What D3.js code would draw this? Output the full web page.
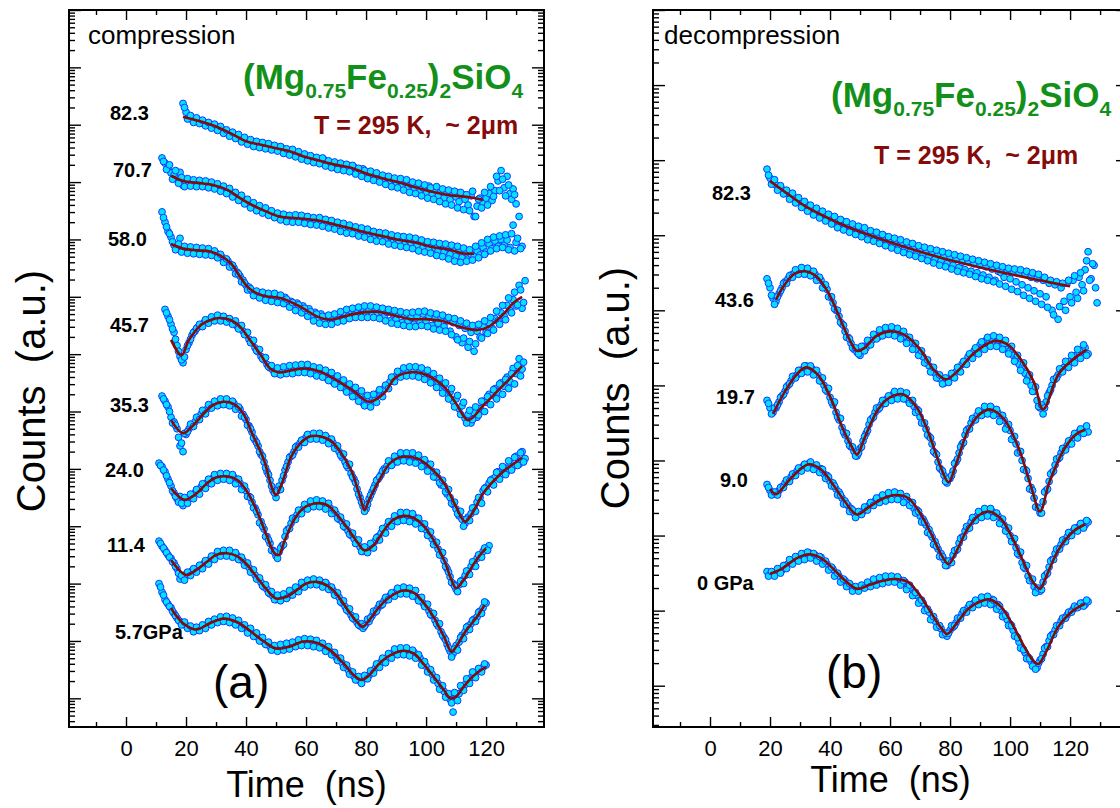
<!DOCTYPE html>
<html>
<head>
<meta charset="utf-8">
<title>NFS time spectra of (Mg0.75Fe0.25)2SiO4</title>
<script src="https://cdn.jsdelivr.net/npm/d3@7"></script>
<style>
  html, body { margin: 0; padding: 0; background: #ffffff; }
  svg { display: block; }
</style>
</head>
<body>
<svg id="chart" width="1120" height="808"></svg>
<script>
// ---------- time axis (ns) ----------
const timeTicks = [0, 20, 40, 60, 80, 100, 120];
const timeMinorTicks = [-10, 10, 30, 50, 70, 90, 110, 130];

// ---------- pressure labels (GPa) ----------
const compLabels = ["82.3", "70.7", "58.0", "45.7", "35.3", "24.0", "11.4", "5.7GPa"];
const decompLabels = ["82.3", "43.6", "19.7", "9.0", "0 GPa"];

// ---------- measured counts: log10 of stacked counts ----------
// "A" arrays: one bin per ns from the start time; "B" arrays: bins offset by half a ns
const compStart = [19, 12, 12, 13, 12, 11, 11, 11];

const comp823A = [11.37,11.22,11.12,11.09,11.06,11.08,11.05,11.03,11.01,10.98,10.99,10.95,10.93,10.92,10.88,10.86,10.85,10.80,10.80,10.77,
  10.74,10.72,10.70,10.69,10.66,10.68,10.64,10.63,10.65,10.60,10.61,10.58,10.57,10.59,10.54,10.52,10.55,10.49,10.50,10.46,
  10.42,10.45,10.41,10.42,10.37,10.40,10.35,10.39,10.31,10.34,10.28,10.32,10.27,10.30,10.24,10.28,10.20,10.26,10.19,10.17,
  10.23,10.12,10.17,10.10,10.14,10.05,10.11,10.04,10.08,9.99,10.05,9.95,10.03,9.94,10.00,9.90,9.96,9.86,9.95,9.85,
  9.90,9.80,9.93,9.78,9.87,9.75,9.85,9.72,9.82,9.69,9.80,9.74,9.66,9.79,9.70,9.60,9.76,9.40,9.58,9.72,
  9.64,9.72,9.80,9.68,9.85,10.02,10.20,9.90,10.10,9.80,9.88,9.62];
const comp823B = [11.30,11.10,11.16,11.04,11.12,11.02,11.08,10.98,11.04,10.94,11.01,10.90,10.97,10.85,10.91,10.80,10.87,10.76,10.83,10.70,
  10.78,10.66,10.74,10.62,10.71,10.60,10.69,10.58,10.67,10.56,10.64,10.54,10.62,10.50,10.58,10.47,10.57,10.44,10.53,10.40,
  10.49,10.37,10.46,10.34,10.43,10.32,10.42,10.28,10.37,10.25,10.35,10.22,10.33,10.20,10.31,10.18,10.29,10.14,10.24,10.10,
  10.20,10.06,10.19,10.03,10.16,10.00,10.12,9.96,10.10,9.92,10.07,9.90,10.06,9.86,10.04,9.82,10.00,9.80,9.98,9.76,
  9.95,9.72,9.90,9.70,9.92,9.66,9.88,9.62,9.86,9.60,9.84,9.55,9.82,9.52,9.78,9.50,9.84,9.40,9.70,9.55,
  9.82,9.60,9.92,9.75,10.10,9.85,10.05,9.76,9.95,9.70,9.78];

const comp707A = [10.42,10.33,10.25,10.16,10.12,10.05,10.17,9.94,10.00,9.97,10.01,9.96,9.99,9.97,10.00,9.95,9.97,9.93,9.94,9.90,
  9.91,9.86,9.85,9.80,9.79,9.74,9.73,9.68,9.67,9.61,9.62,9.56,9.57,9.52,9.51,9.47,9.49,9.43,9.44,9.39,
  9.42,9.36,9.39,9.35,9.40,9.34,9.38,9.33,9.37,9.31,9.35,9.30,9.35,9.29,9.32,9.26,9.30,9.24,9.28,9.21,
  9.24,9.18,9.22,9.16,9.20,9.13,9.18,9.10,9.14,9.08,9.13,9.04,9.10,9.02,9.08,9.00,9.05,8.95,9.02,8.97,
  9.04,8.92,9.00,8.94,8.98,8.90,8.97,8.86,8.93,8.84,8.91,8.85,8.80,8.88,8.78,8.86,8.74,8.84,8.71,8.80,
  8.68,8.78,8.66,8.74,8.70,8.80,8.73,8.86,8.78,8.92,8.84,8.97,8.88,9.00,8.90,8.99,8.86,9.25,8.95,9.40,8.88];
const comp707B = [10.36,10.22,10.30,10.05,10.20,9.98,10.08,9.92,10.06,9.93,10.04,9.92,10.03,9.92,10.02,9.90,10.00,9.88,9.97,9.84,
  9.93,9.80,9.89,9.74,9.82,9.68,9.77,9.62,9.70,9.55,9.64,9.50,9.59,9.46,9.55,9.42,9.50,9.38,9.46,9.34,
  9.44,9.31,9.42,9.30,9.43,9.30,9.42,9.28,9.40,9.26,9.38,9.25,9.38,9.23,9.35,9.20,9.33,9.18,9.30,9.14,
  9.28,9.11,9.25,9.10,9.22,9.06,9.20,9.04,9.18,9.00,9.14,8.97,9.12,8.96,9.11,8.92,9.08,8.90,9.06,8.88,
  9.05,8.86,9.04,8.84,9.02,8.80,8.99,8.78,8.96,8.76,8.95,8.72,8.93,8.70,8.92,8.66,8.90,8.62,8.88,8.60,
  8.85,8.62,8.82,8.64,8.88,8.68,8.94,8.74,9.00,8.80,9.04,8.84,9.06,8.86,9.08,8.82,9.10,8.80,9.02,8.84];

const comp580A = [9.48,9.30,9.14,9.04,8.90,8.86,9.02,8.83,8.85,8.80,8.84,8.79,8.83,8.78,8.82,8.77,8.80,8.75,8.76,8.71,
  8.69,8.64,8.62,8.56,8.50,8.43,8.36,8.29,8.20,8.17,8.10,8.07,8.03,8.06,8.00,8.04,7.97,8.03,7.96,8.00,
  7.93,7.99,7.90,7.92,7.86,7.89,7.80,7.84,7.74,7.79,7.68,7.73,7.62,7.70,7.58,7.66,7.55,7.65,7.60,7.70,
  7.62,7.72,7.66,7.76,7.68,7.78,7.69,7.80,7.72,7.77,7.68,7.80,7.71,7.74,7.65,7.73,7.58,7.70,7.60,7.69,
  7.55,7.67,7.58,7.64,7.52,7.66,7.56,7.70,7.58,7.66,7.50,7.62,7.54,7.64,7.48,7.58,7.40,7.55,7.30,7.50,
  7.20,7.45,7.12,7.38,7.05,7.40,7.30,7.48,7.38,7.55,7.45,7.62,7.58,7.72,7.66,7.85,7.76,7.95,7.84,8.20,7.80,8.28];
const comp580B = [9.38,9.22,9.10,8.96,8.82,8.92,8.78,8.88,8.76,8.87,8.75,8.86,8.74,8.85,8.73,8.84,8.72,8.80,8.68,8.74,
  8.60,8.66,8.52,8.55,8.40,8.40,8.26,8.24,8.12,8.14,8.02,8.10,7.98,8.08,7.94,8.06,7.92,8.06,7.90,8.03,
  7.88,7.96,7.82,7.90,7.76,7.86,7.72,7.80,7.66,7.74,7.58,7.70,7.54,7.66,7.52,7.68,7.52,7.70,7.56,7.74,
  7.58,7.78,7.62,7.80,7.64,7.82,7.64,7.84,7.64,7.84,7.64,7.82,7.62,7.80,7.58,7.78,7.54,7.76,7.52,7.74,
  7.50,7.72,7.48,7.73,7.48,7.74,7.50,7.75,7.48,7.72,7.44,7.70,7.42,7.68,7.40,7.64,7.34,7.62,7.25,7.58,
  7.28,7.54,7.22,7.50,7.18,7.52,7.28,7.58,7.36,7.64,7.42,7.75,7.52,7.85,7.60,7.98,7.72,8.08,7.86,8.12,7.90];

const comp457A = [7.78,7.66,7.52,7.38,7.15,6.96,6.85,7.08,7.20,7.33,7.40,7.47,7.50,7.55,7.56,7.60,7.61,7.64,7.62,7.65,
  7.60,7.61,7.56,7.55,7.49,7.47,7.40,7.34,7.26,7.20,7.11,7.04,6.96,6.90,6.82,6.76,6.72,6.70,6.67,6.72,
  6.69,6.75,6.71,6.77,6.72,6.76,6.70,6.78,6.71,6.74,6.66,6.72,6.64,6.68,6.58,6.63,6.52,6.58,6.48,6.50,
  6.40,6.44,6.33,6.38,6.26,6.30,6.15,6.22,6.12,6.25,6.20,6.32,6.30,6.40,6.46,6.52,6.58,6.62,6.65,6.70,
  6.66,6.72,6.68,6.73,6.65,6.70,6.62,6.68,6.58,6.60,6.50,6.52,6.42,6.45,6.32,6.34,6.18,6.22,6.05,6.10,
  5.88,5.95,5.80,5.98,5.90,6.05,6.18,6.16,6.30,6.28,6.40,6.34,6.50,6.44,6.60,6.52,6.75,6.66,6.92,6.74];
const comp457B = [7.72,7.60,7.44,7.26,7.05,6.90,6.95,7.15,7.26,7.38,7.45,7.52,7.48,7.60,7.54,7.65,7.58,7.68,7.58,7.66,
  7.56,7.62,7.52,7.58,7.44,7.50,7.34,7.38,7.20,7.24,7.06,7.08,6.92,6.94,6.78,6.80,6.66,6.76,6.64,6.78,
  6.66,6.80,6.66,6.81,6.68,6.82,6.68,6.82,6.66,6.78,6.62,6.76,6.60,6.72,6.54,6.68,6.48,6.62,6.42,6.55,
  6.34,6.48,6.26,6.42,6.18,6.36,6.10,6.28,6.08,6.30,6.16,6.38,6.26,6.46,6.40,6.60,6.52,6.70,6.60,6.76,
  6.62,6.78,6.62,6.78,6.60,6.76,6.56,6.72,6.50,6.66,6.42,6.58,6.32,6.50,6.22,6.40,6.08,6.28,5.95,6.16,
  5.80,6.02,5.86,6.08,5.94,6.18,6.00,6.26,6.12,6.38,6.22,6.48,6.30,6.56,6.40,6.66,6.48,6.80,6.62,6.86];

const comp353A = [6.27,6.18,6.08,5.90,5.82,5.70,5.40,5.30,5.60,5.70,5.76,5.82,5.88,5.95,5.98,6.04,6.08,6.10,6.15,6.14,
  6.19,6.16,6.18,6.12,6.14,6.06,6.04,5.95,5.86,5.75,5.64,5.50,5.40,5.25,5.12,4.95,4.80,4.62,4.50,4.70,
  4.80,4.98,5.12,5.22,5.30,5.40,5.45,5.50,5.55,5.58,5.54,5.60,5.55,5.58,5.52,5.54,5.46,5.45,5.36,5.30,
  5.20,5.12,5.02,4.92,4.82,4.65,4.50,4.35,4.30,4.48,4.60,4.72,4.82,4.90,5.00,5.05,5.12,5.10,5.18,5.15,
  5.25,5.18,5.24,5.15,5.22,5.12,5.16,5.06,5.10,4.98,4.96,4.86,4.84,4.72,4.70,4.56,4.50,4.38,4.30,4.18,
  4.12,4.05,4.16,4.22,4.32,4.42,4.50,4.62,4.68,4.75,4.82,4.85,4.95,4.90,5.02,4.96,5.10,5.04,5.22,5.08,5.30,5.18];
const comp353B = [6.22,6.12,6.00,5.80,5.76,5.55,5.45,5.62,5.65,5.78,5.74,5.90,5.86,6.02,5.96,6.12,6.06,6.18,6.10,6.22,
  6.12,6.22,6.10,6.18,6.04,6.08,5.92,5.90,5.76,5.70,5.54,5.46,5.30,5.22,5.02,4.90,4.70,4.58,4.62,4.64,
  4.88,5.04,5.20,5.24,5.38,5.38,5.50,5.46,5.60,5.52,5.62,5.52,5.62,5.50,5.58,5.44,5.52,5.36,5.40,5.24,
  5.26,5.06,5.08,4.86,4.76,4.56,4.42,4.26,4.38,4.54,4.66,4.80,4.86,4.96,4.98,5.14,5.06,5.22,5.12,5.28,
  5.14,5.28,5.12,5.28,5.10,5.24,5.04,5.16,4.96,5.08,4.86,4.94,4.76,4.80,4.60,4.64,4.40,4.42,4.22,4.26,
  4.00,4.12,4.10,4.32,4.26,4.50,4.40,4.66,4.60,4.80,4.72,4.94,4.82,5.04,4.90,5.14,4.98,5.20,5.06,5.28,5.12];

const comp240A = [5.10,5.04,4.95,4.82,4.70,4.58,4.48,4.52,4.36,4.44,4.50,4.53,4.58,4.62,4.68,4.72,4.76,4.80,4.84,4.86,
  4.84,4.89,4.86,4.89,4.84,4.85,4.78,4.75,4.68,4.62,4.52,4.42,4.32,4.20,4.08,3.95,3.82,3.70,3.58,3.48,
  3.55,3.66,3.82,3.95,4.05,4.14,4.20,4.26,4.30,4.35,4.37,4.40,4.38,4.42,4.36,4.40,4.34,4.32,4.24,4.22,
  4.12,4.08,3.98,3.92,3.84,3.78,3.70,3.64,3.56,3.60,3.62,3.68,3.74,3.82,3.88,3.95,4.00,4.06,4.10,4.15,
  4.12,4.20,4.16,4.19,4.12,4.16,4.08,4.06,3.98,3.94,3.86,3.78,3.70,3.60,3.50,3.40,3.26,3.12,3.00,2.90,
  2.98,3.06,3.14,3.22,3.30,3.38,3.44,3.50,3.56,3.62,3.66];
const comp240B = [5.06,4.98,4.88,4.76,4.62,4.52,4.42,4.40,4.50,4.40,4.56,4.48,4.64,4.56,4.74,4.66,4.82,4.74,4.90,4.80,
  4.92,4.82,4.92,4.80,4.90,4.74,4.82,4.64,4.70,4.52,4.50,4.32,4.26,4.06,4.00,3.82,3.76,3.58,3.55,3.44,
  3.62,3.68,3.92,3.96,4.14,4.12,4.28,4.22,4.38,4.30,4.44,4.34,4.46,4.34,4.44,4.30,4.40,4.22,4.28,4.14,
  4.16,4.00,4.04,3.86,3.88,3.70,3.76,3.56,3.64,3.54,3.70,3.62,3.80,3.76,3.96,3.88,4.08,4.00,4.18,4.08,
  4.24,4.10,4.24,4.08,4.22,4.04,4.14,3.96,4.04,3.84,3.90,3.68,3.72,3.50,3.54,3.30,3.20,3.02,2.96,2.86,
  3.04,3.00,3.22,3.16,3.38,3.30,3.50,3.46,3.62,3.58];

const comp114A = [3.74,3.65,3.58,3.50,3.44,3.36,3.26,3.08,3.12,3.16,3.18,3.22,3.24,3.27,3.30,3.35,3.38,3.42,3.47,3.49,
  3.53,3.51,3.55,3.52,3.54,3.48,3.49,3.42,3.40,3.33,3.28,3.20,3.15,3.08,3.02,2.94,2.90,2.82,2.78,2.72,
  2.76,2.74,2.79,2.78,2.84,2.86,2.92,2.93,2.99,2.98,3.04,3.00,3.05,3.01,3.03,2.96,2.98,2.90,2.88,2.80,
  2.76,2.66,2.60,2.52,2.45,2.38,2.32,2.26,2.22,2.30,2.34,2.44,2.50,2.58,2.62,2.70,2.72,2.79,2.80,2.86,
  2.84,2.90,2.86,2.88,2.82,2.84,2.76,2.74,2.66,2.60,2.52,2.44,2.36,2.26,2.16,2.06,1.94,1.82,1.78,1.92,
  1.98,2.10,2.16,2.26,2.30,2.38,2.42,2.52,2.58,2.66];
const comp114B = [3.70,3.62,3.54,3.46,3.38,3.30,3.18,3.14,3.06,3.20,3.14,3.26,3.20,3.32,3.26,3.40,3.34,3.48,3.42,3.56,
  3.48,3.58,3.48,3.58,3.46,3.54,3.42,3.46,3.32,3.36,3.20,3.24,3.08,3.10,2.96,2.98,2.84,2.86,2.72,2.80,
  2.70,2.82,2.74,2.88,2.80,2.94,2.86,3.02,2.94,3.06,2.98,3.08,2.98,3.06,2.94,3.02,2.90,2.94,2.80,2.84,
  2.68,2.70,2.54,2.56,2.40,2.42,2.28,2.30,2.26,2.38,2.40,2.52,2.52,2.64,2.64,2.76,2.72,2.84,2.78,2.92,
  2.82,2.94,2.82,2.92,2.78,2.88,2.70,2.76,2.60,2.64,2.46,2.48,2.30,2.30,2.10,2.02,1.88,1.72,1.86,1.84,
  2.06,2.04,2.24,2.20,2.36,2.34,2.50,2.48,2.68];

const comp57A = [3.00,2.85,2.72,2.64,2.58,2.48,2.40,2.34,2.30,2.27,2.24,2.22,2.20,2.22,2.24,2.26,2.28,2.31,2.33,2.35,
  2.38,2.36,2.41,2.37,2.38,2.33,2.35,2.28,2.27,2.22,2.20,2.14,2.10,2.06,2.02,1.98,1.94,1.90,1.88,1.86,
  1.89,1.88,1.92,1.90,1.94,1.92,1.97,1.95,2.00,1.97,2.01,1.96,1.99,1.94,1.95,1.88,1.88,1.82,1.78,1.72,
  1.68,1.62,1.56,1.50,1.44,1.38,1.34,1.30,1.33,1.36,1.40,1.46,1.52,1.58,1.63,1.68,1.71,1.76,1.78,1.82,
  1.80,1.85,1.82,1.84,1.79,1.80,1.72,1.70,1.62,1.56,1.48,1.42,1.33,1.26,1.18,1.12,1.04,0.98,0.76,1.04,
  1.08,1.18,1.24,1.30,1.36,1.40,1.46,1.50,1.54,1.58];
const comp57B = [2.94,2.80,2.68,2.60,2.52,2.44,2.36,2.28,2.33,2.22,2.26,2.16,2.24,2.18,2.28,2.22,2.34,2.28,2.38,2.32,
  2.42,2.34,2.43,2.32,2.40,2.28,2.36,2.22,2.28,2.14,2.22,2.08,2.14,2.00,2.06,1.94,1.98,1.84,1.92,1.82,
  1.94,1.84,1.96,1.86,1.98,1.90,2.02,1.92,2.04,1.92,2.03,1.90,2.01,1.88,1.96,1.82,1.90,1.76,1.80,1.66,
  1.70,1.54,1.58,1.42,1.46,1.32,1.38,1.26,1.40,1.34,1.48,1.44,1.60,1.54,1.70,1.62,1.78,1.70,1.86,1.76,
  1.88,1.76,1.88,1.74,1.84,1.70,1.76,1.58,1.64,1.46,1.50,1.32,1.36,1.16,1.22,1.02,1.08,0.92,1.10,0.96,
  1.22,1.14,1.34,1.26,1.46,1.36,1.52,1.46,1.60];

// ---------- fitted curves: [time (ns), log10 counts] ----------
const fit823 = [[19,11.14],[24,11.07],[30,10.97],[36,10.82],[40,10.71],[45,10.65],[50,10.59],[55,10.53],[59,10.45],[64,10.38],
  [70,10.30],[75,10.25],[80,10.15],[86,10.06],[92,9.98],[97,9.90],[102,9.83],[108,9.77],[114,9.74],[119,9.69]];
const fit707 = [[15,10.11],[19,10.02],[25,9.98],[29,9.95],[34,9.86],[38,9.72],[42,9.60],[47,9.48],[51,9.40],[57,9.37],[64,9.33],
  [68,9.28],[75,9.19],[80,9.12],[86,9.05],[91,8.99],[97,8.94],[102,8.87],[108,8.82],[112,8.76],[116,8.75]];
const fit580 = [[15,8.92],[19,8.84],[24,8.81],[28,8.79],[31,8.73],[35,8.58],[38,8.35],[41,8.15],[45,8.03],[48,8.00],[52,7.97],
  [58,7.83],[64,7.65],[68,7.60],[72,7.65],[78,7.72],[84,7.74],[89,7.68],[95,7.61],[100,7.61],[106,7.57],[111,7.48],[117,7.42],
  [121,7.48],[126,7.71],[129,7.89],[132,8.00]];
const fit457 = [[15,7.25],[18.5,6.98],[21,7.25],[25,7.51],[28,7.59],[31,7.63],[35,7.59],[38,7.48],[41,7.27],[45,6.98],[48,6.75],
  [51,6.68],[56,6.73],[60,6.75],[65,6.69],[70,6.55],[76,6.35],[81,6.17],[86,6.32],[90,6.60],[96,6.69],[100,6.64],[106,6.43],
  [110,6.14],[114,5.85],[119,6.10],[125,6.42],[132,6.79]];
const fit353 = [[15,5.85],[19,5.62],[22,5.74],[26,5.97],[29,6.11],[32.5,6.17],[36,6.13],[39,5.97],[42,5.62],[46,5.15],[48.5,4.69],
  [50,4.54],[52,4.75],[55,5.21],[58,5.44],[61,5.56],[64.5,5.57],[68,5.50],[71,5.33],[75,4.98],[78,4.51],[79.5,4.28],[81,4.46],
  [85,4.86],[88,5.10],[92,5.21],[97,5.18],[101,5.04],[106,4.75],[110,4.34],[113,4.08],[116,4.28],[119,4.57],[125,4.92],
  [130,5.12],[132,5.20]];
const fit240 = [[15,4.66],[19.5,4.46],[23.5,4.57],[27,4.75],[30,4.85],[33.5,4.87],[37,4.81],[40,4.63],[43.5,4.28],[47,3.82],
  [49.5,3.53],[51,3.50],[52.5,3.70],[56,4.11],[59,4.31],[63.5,4.40],[67,4.37],[70,4.22],[73.5,3.99],[77,3.73],[79.5,3.58],
  [82.5,3.67],[86,3.93],[89,4.11],[92.5,4.18],[96,4.14],[99,4.02],[102.5,3.76],[106,3.41],[108.5,3.06],[110,2.92],[112.5,3.06],
  [116,3.35],[119,3.56],[120,3.61]];
const fit114 = [[15,3.41],[20,3.15],[23.5,3.24],[27,3.38],[30,3.50],[33.5,3.53],[37,3.48],[40,3.35],[43.5,3.12],[47,2.89],[50,2.74],
  [53.5,2.77],[57,2.89],[60,3.00],[63.5,3.03],[67,2.97],[70,2.83],[73.5,2.57],[77,2.33],[79,2.25],[81,2.36],[84.5,2.60],[88,2.77],
  [92.5,2.88],[96,2.84],[99,2.68],[102.5,2.42],[106,2.07],[108.5,1.81],[110,1.90],[113.5,2.19],[117,2.42],[119.5,2.63]];
const fit57 = [[15,2.57],[19,2.31],[23.5,2.20],[28,2.31],[32.5,2.39],[37,2.33],[41,2.19],[46,1.99],[50,1.87],[55,1.91],[59,1.99],
  [63.5,1.97],[68,1.84],[72.5,1.61],[76,1.40],[78.5,1.32],[81,1.40],[84.5,1.61],[88,1.75],[92.5,1.83],[96,1.78],[99,1.61],
  [102.5,1.38],[106,1.14],[108,1.00],[110,1.03],[112.5,1.20],[116,1.40],[120,1.55]];

// ---------- decompression series ----------
const decompStart = [19, 19, 19, 19, 19];

const dec823A = [7.88,7.76,7.70,7.67,7.62,7.61,7.56,7.55,7.52,7.50,7.46,7.44,7.40,7.41,7.35,7.36,7.30,7.32,7.26,7.28,
  7.22,7.24,7.18,7.21,7.14,7.19,7.12,7.14,7.08,7.12,7.05,7.08,7.03,7.06,6.99,7.04,6.96,7.00,6.94,6.99,
  6.91,6.96,6.88,6.93,6.86,6.90,6.82,6.88,6.80,6.85,6.77,6.82,6.74,6.80,6.72,6.78,6.68,6.75,6.66,6.72,
  6.62,6.70,6.60,6.68,6.57,6.64,6.54,6.66,6.52,6.62,6.50,6.60,6.47,6.58,6.44,6.55,6.40,6.52,6.50,6.44,
  6.54,6.42,6.52,6.38,6.50,6.34,6.48,6.30,6.44,6.26,6.42,6.22,6.40,6.18,6.36,6.00,6.34,5.88,6.30,6.12,
  6.36,6.18,6.40,6.24,6.44,6.34,6.54,6.78,6.42,6.60,6.10];
const dec823B = [7.80,7.68,7.74,7.60,7.66,7.55,7.60,7.48,7.56,7.43,7.50,7.37,7.45,7.32,7.40,7.27,7.36,7.23,7.32,7.19,
  7.28,7.15,7.25,7.10,7.21,7.07,7.18,7.04,7.15,7.01,7.12,6.98,7.10,6.94,7.06,6.92,7.04,6.89,7.01,6.86,
  6.98,6.83,6.96,6.80,6.94,6.77,6.91,6.74,6.89,6.72,6.86,6.69,6.84,6.66,6.82,6.63,6.80,6.60,6.78,6.58,
  6.76,6.55,6.74,6.52,6.72,6.50,6.70,6.48,6.68,6.45,6.66,6.42,6.64,6.40,6.62,6.38,6.60,6.35,6.58,6.32,
  6.56,6.28,6.55,6.25,6.54,6.20,6.52,6.16,6.50,6.12,6.48,6.08,6.44,6.04,6.40,5.94,6.38,6.05,6.36,6.00,
  6.40,6.10,6.46,6.16,6.50,6.26,6.66,6.40,6.62,6.30];

const dec436A = [6.42,6.30,6.16,6.12,6.22,6.30,6.38,6.42,6.47,6.49,6.52,6.50,6.54,6.51,6.53,6.47,6.48,6.42,6.40,6.32,
  6.28,6.18,6.10,6.00,5.92,5.82,5.72,5.64,5.56,5.48,5.44,5.40,5.52,5.50,5.58,5.60,5.66,5.64,5.70,5.68,
  5.74,5.70,5.74,5.68,5.72,5.64,5.66,5.58,5.58,5.50,5.48,5.42,5.38,5.30,5.26,5.20,5.16,5.10,5.08,5.03,
  5.05,5.10,5.12,5.18,5.22,5.28,5.32,5.38,5.40,5.46,5.48,5.54,5.52,5.60,5.56,5.62,5.56,5.60,5.52,5.55,
  5.48,5.46,5.40,5.36,5.28,5.24,5.16,5.10,5.00,4.92,4.80,4.70,4.62,4.78,4.90,5.00,5.08,5.14,5.20,5.24,
  5.30,5.32,5.38,5.40,5.44,5.46,5.50,5.42];
const dec436B = [6.36,6.20,6.08,6.18,6.26,6.36,6.36,6.46,6.44,6.54,6.48,6.57,6.48,6.56,6.46,6.52,6.40,6.44,6.30,6.34,
  6.18,6.18,6.02,6.00,5.84,5.80,5.64,5.62,5.50,5.50,5.42,5.52,5.46,5.60,5.54,5.68,5.62,5.74,5.66,5.77,
  5.68,5.78,5.66,5.76,5.62,5.72,5.56,5.64,5.48,5.56,5.40,5.46,5.30,5.34,5.18,5.24,5.10,5.14,5.02,5.10,
  5.04,5.16,5.10,5.24,5.18,5.32,5.28,5.42,5.36,5.50,5.42,5.58,5.48,5.64,5.52,5.66,5.52,5.64,5.48,5.60,
  5.42,5.52,5.32,5.40,5.20,5.30,5.06,5.14,4.92,4.98,4.72,4.74,4.70,4.86,4.94,5.08,5.10,5.22,5.18,5.32,
  5.24,5.40,5.30,5.48,5.36,5.54,5.40];

const dec197A = [4.80,4.70,4.64,4.70,4.78,4.86,4.92,5.00,5.06,5.12,5.14,5.20,5.21,5.26,5.22,5.22,5.16,5.14,5.06,5.00,
  4.92,4.84,4.74,4.64,4.54,4.44,4.34,4.26,4.18,4.12,4.06,4.16,4.26,4.36,4.48,4.56,4.64,4.68,4.74,4.76,
  4.82,4.82,4.88,4.85,4.90,4.86,4.87,4.80,4.78,4.72,4.68,4.58,4.50,4.42,4.32,4.22,4.10,3.98,3.88,3.80,
  3.70,3.76,3.86,3.98,4.10,4.22,4.34,4.42,4.50,4.56,4.60,4.64,4.62,4.68,4.66,4.69,4.62,4.63,4.56,4.54,
  4.46,4.40,4.30,4.22,4.12,4.00,3.88,3.76,3.64,3.50,3.38,3.30,3.45,3.60,3.72,3.84,3.94,4.02,4.10,4.16,
  4.20,4.26,4.30,4.34,4.38,4.40,4.42,4.38];
const dec197B = [4.76,4.62,4.70,4.74,4.84,4.88,4.98,5.02,5.12,5.10,5.20,5.16,5.26,5.18,5.26,5.14,5.20,5.06,5.10,4.94,
  4.96,4.78,4.78,4.58,4.56,4.38,4.36,4.20,4.18,4.06,4.10,4.18,4.32,4.40,4.54,4.58,4.70,4.70,4.80,4.76,
  4.86,4.80,4.92,4.82,4.92,4.82,4.90,4.76,4.80,4.64,4.66,4.50,4.50,4.34,4.30,4.12,4.08,3.90,3.86,3.72,
  3.76,3.80,3.96,4.02,4.18,4.24,4.40,4.42,4.56,4.54,4.66,4.60,4.72,4.62,4.72,4.60,4.68,4.52,4.60,4.42,
  4.48,4.28,4.32,4.10,4.12,3.88,3.86,3.62,3.60,3.38,3.36,3.30,3.58,3.62,3.82,3.86,4.02,4.04,4.16,4.14,
  4.26,4.22,4.36,4.30,4.42,4.36,4.46];

const dec90A = [3.68,3.60,3.55,3.56,3.60,3.65,3.70,3.73,3.78,3.82,3.86,3.87,3.92,3.93,3.96,3.92,3.93,3.88,3.89,3.82,
  3.80,3.72,3.70,3.62,3.58,3.50,3.46,3.40,3.36,3.30,3.27,3.30,3.32,3.36,3.40,3.42,3.46,3.47,3.51,3.50,
  3.54,3.52,3.56,3.52,3.54,3.48,3.50,3.46,3.44,3.36,3.34,3.26,3.22,3.14,3.08,2.98,2.92,2.82,2.76,2.68,
  2.60,2.66,2.74,2.80,2.90,2.98,3.06,3.10,3.18,3.22,3.26,3.28,3.30,3.34,3.30,3.32,3.26,3.26,3.18,3.14,
  3.06,3.00,2.92,2.84,2.74,2.64,2.56,2.46,2.40,2.32,2.28,2.26,2.38,2.48,2.58,2.68,2.76,2.82,2.88,2.94,
  2.98,3.02,3.06,3.10,3.12,3.16,3.14,3.18];
const dec90B = [3.64,3.54,3.58,3.54,3.64,3.64,3.74,3.72,3.82,3.80,3.90,3.86,3.95,3.90,3.98,3.88,3.94,3.84,3.88,3.76,
  3.78,3.66,3.66,3.54,3.54,3.42,3.42,3.32,3.34,3.24,3.32,3.28,3.38,3.34,3.44,3.40,3.50,3.44,3.54,3.46,
  3.57,3.48,3.58,3.48,3.56,3.44,3.52,3.40,3.44,3.30,3.32,3.18,3.18,3.04,3.02,2.88,2.86,2.72,2.72,2.60,
  2.66,2.64,2.80,2.82,2.96,2.98,3.12,3.10,3.24,3.20,3.32,3.24,3.36,3.26,3.36,3.24,3.30,3.16,3.22,3.06,
  3.10,2.92,2.96,2.76,2.78,2.58,2.60,2.40,2.42,2.24,2.30,2.28,2.46,2.50,2.66,2.68,2.82,2.82,2.94,2.92,
  3.04,3.00,3.10,3.06,3.16,3.10,3.20];

const dec0A = [2.52,2.48,2.50,2.51,2.55,2.54,2.60,2.62,2.66,2.67,2.71,2.72,2.75,2.73,2.77,2.73,2.74,2.70,2.71,2.64,
  2.62,2.56,2.55,2.48,2.46,2.40,2.40,2.34,2.33,2.28,2.29,2.30,2.32,2.33,2.36,2.36,2.39,2.38,2.42,2.40,
  2.43,2.40,2.44,2.40,2.42,2.37,2.38,2.32,2.30,2.24,2.20,2.14,2.10,2.02,1.98,1.90,1.86,1.78,1.76,1.70,
  1.66,1.74,1.78,1.84,1.90,1.96,2.00,2.04,2.08,2.10,2.12,2.14,2.13,2.17,2.14,2.15,2.08,2.08,2.00,1.96,
  1.88,1.82,1.74,1.66,1.58,1.50,1.44,1.38,1.32,1.28,1.24,1.34,1.42,1.52,1.60,1.68,1.74,1.80,1.86,1.90,
  1.94,1.98,2.02,2.04,2.06,2.10,2.08,2.12];
const dec0B = [2.46,2.52,2.46,2.56,2.50,2.60,2.56,2.68,2.62,2.72,2.66,2.76,2.68,2.78,2.70,2.76,2.66,2.72,2.62,2.66,
  2.54,2.58,2.46,2.50,2.38,2.42,2.32,2.36,2.26,2.32,2.26,2.34,2.30,2.38,2.32,2.42,2.34,2.44,2.36,2.46,
  2.38,2.46,2.38,2.45,2.34,2.40,2.28,2.34,2.20,2.24,2.10,2.14,2.00,2.02,1.88,1.92,1.78,1.80,1.68,1.70,
  1.70,1.80,1.80,1.90,1.90,2.00,1.98,2.08,2.04,2.14,2.08,2.18,2.10,2.19,2.08,2.14,2.02,2.06,1.92,1.94,
  1.80,1.80,1.66,1.64,1.50,1.48,1.36,1.36,1.26,1.22,1.30,1.36,1.50,1.52,1.66,1.68,1.80,1.80,1.90,1.90,
  1.98,1.98,2.06,2.04,2.10,2.06,2.14];

const decFit823 = [[20,7.72],[27,7.52],[32,7.38],[43,7.16],[54,6.99],[66,6.83],[77,6.70],[88,6.59],[99,6.49],[110,6.40],[120,6.32]];
const decFit436 = [[22,6.14],[24.5,6.32],[28,6.48],[31.5,6.52],[35.5,6.45],[39.5,6.23],[43,5.92],[46.5,5.61],[49,5.46],[51.5,5.50],
  [55.5,5.66],[60,5.72],[64.5,5.68],[70,5.48],[74.5,5.21],[78.5,5.08],[82,5.17],[88,5.43],[94.5,5.59],[99,5.55],[103.5,5.35],
  [108,5.04],[111,4.68],[116.5,5.17],[125.5,5.48]];
const decFit197 = [[21,4.62],[25,4.92],[29,5.15],[32,5.24],[36,5.14],[40,4.85],[44,4.45],[47,4.20],[49,4.08],[51.5,4.30],[56,4.68],
  [60,4.84],[64.5,4.88],[69,4.70],[73,4.35],[77,3.90],[79.5,3.71],[82,3.95],[86,4.40],[90,4.62],[93.5,4.68],[98,4.55],[103,4.15],
  [107,3.65],[110,3.32],[113,3.70],[118,4.15],[122,4.35],[125,4.41]];
const decFit90 = [[20,3.62],[22,3.55],[26,3.72],[30,3.88],[33,3.95],[37,3.88],[41,3.68],[45,3.45],[49,3.28],[53,3.38],[58,3.50],
  [62,3.54],[66,3.50],[70,3.30],[74,3.00],[77,2.75],[79.5,2.62],[82,2.78],[86,3.10],[90,3.28],[93,3.32],[97,3.22],[101,2.95],
  [105,2.60],[108,2.36],[110,2.29],[112,2.45],[116,2.80],[121,3.05],[125,3.15]];
const decFit0 = [[20,2.49],[24,2.56],[29,2.70],[33,2.75],[37,2.70],[41,2.56],[45,2.40],[49,2.29],[53,2.34],[58,2.40],[62,2.42],
  [66,2.38],[70,2.20],[74,1.95],[77,1.77],[79,1.69],[82,1.82],[86,2.02],[90,2.12],[93,2.15],[97,2.05],[101,1.80],[105,1.50],
  [108,1.32],[109.5,1.29],[112,1.45],[116,1.78],[121,2.00],[125,2.09]];

// ---------- layout ----------
const FONT = "'Liberation Sans', Arial, Helvetica, sans-serif";
const TOP = 10, BOTTOM = 727, PANEL_W = 475;
const timeDomain = [-19, 139.3];
const compLabelPos = [[110,113],[113,170],[108,239],[110,325],[110,405],[105,470],[107,545],[115,632]];
const decompLabelPos = [[712,193],[715,300],[716,397],[720,480],[697,583]];

const svg = d3.select("#chart");

function buildSeries(labels, starts, ptsA, ptsB, fits) {
  return labels.map((label, i) => ({
    label,
    points: ptsA[i].map((v, k) => ({ t: starts[i] + k, v }))
      .concat(ptsB[i].map((v, k) => ({ t: starts[i] + 0.5 + k, v }))),
    fit: fits[i].map(([t, v]) => ({ t, v }))
  }));
}

const compSeries = buildSeries(compLabels, compStart,
  [comp823A, comp707A, comp580A, comp457A, comp353A, comp240A, comp114A, comp57A],
  [comp823B, comp707B, comp580B, comp457B, comp353B, comp240B, comp114B, comp57B],
  [fit823, fit707, fit580, fit457, fit353, fit240, fit114, fit57]);
const decompSeries = buildSeries(decompLabels, decompStart,
  [dec823A, dec436A, dec197A, dec90A, dec0A],
  [dec823B, dec436B, dec197B, dec90B, dec0B],
  [decFit823, decFit436, decFit197, decFit90, decFit0]);

function styleAxis(sel, fontSize) {
  sel.select(".domain").remove();
  sel.selectAll(".tick line").attr("stroke", "#000").attr("stroke-width", 1.4);
  sel.attr("font-family", FONT).attr("font-size", fontSize);
  sel.selectAll(".tick text").attr("fill", "#000");
}

function drawPanel(cfg) {
  const left = cfg.left, right = cfg.left + PANEL_W;
  const x = d3.scaleLinear().domain(timeDomain).range([left, right]);
  const y = d3.scaleLog().domain([10 ** cfg.lgMin, 10 ** cfg.lgMax]).range([BOTTOM, TOP]);
  const g = svg.append("g");

  // decade and sub-decade ticks of the log axis
  const major = [], minor = [];
  for (let e = Math.floor(cfg.lgMin); e <= Math.ceil(cfg.lgMax); e++) {
    if (e >= cfg.lgMin && e <= cfg.lgMax) major.push(10 ** e);
    for (let m = 2; m < 10; m++) {
      const lv = e + Math.log10(m);
      if (lv >= cfg.lgMin && lv <= cfg.lgMax) minor.push(m * 10 ** e);
    }
  }

  // measured points
  const pts = cfg.series.flatMap(s => s.points);
  g.append("g").selectAll("circle").data(pts).join("circle")
    .attr("cx", d => x(d.t))
    .attr("cy", d => y(10 ** d.v))
    .attr("r", 3.4)
    .attr("fill", "#00e2ff")
    .attr("stroke", "#1238ff")
    .attr("stroke-width", 1);

  // fitted curves
  const line = d3.line().x(d => x(d.t)).y(d => y(10 ** d.v)).curve(d3.curveCatmullRom.alpha(0.5));
  g.append("g").selectAll("path").data(cfg.series).join("path")
    .attr("d", s => line(s.fit))
    .attr("fill", "none")
    .attr("stroke", "#870a0a")
    .attr("stroke-width", 2.6)
    .attr("stroke-linejoin", "round");

  // axes, ticks pointing inward on all four sides
  g.append("g").attr("transform", `translate(0,${BOTTOM})`)
    .call(d3.axisBottom(x).tickValues(timeTicks).tickSize(-10).tickPadding(13))
    .call(s => styleAxis(s, 22));
  g.append("g").attr("transform", `translate(0,${BOTTOM})`)
    .call(d3.axisBottom(x).tickValues(timeMinorTicks).tickSize(-5).tickFormat(""))
    .call(s => styleAxis(s, 22));
  g.append("g").attr("transform", `translate(0,${TOP})`)
    .call(d3.axisTop(x).tickValues(timeTicks).tickSize(-10).tickFormat(""))
    .call(s => styleAxis(s, 22));
  g.append("g").attr("transform", `translate(0,${TOP})`)
    .call(d3.axisTop(x).tickValues(timeMinorTicks).tickSize(-5).tickFormat(""))
    .call(s => styleAxis(s, 22));
  g.append("g").attr("transform", `translate(${left},0)`)
    .call(d3.axisLeft(y).tickValues(major).tickSize(-12).tickFormat(""))
    .call(s => styleAxis(s, 10));
  g.append("g").attr("transform", `translate(${left},0)`)
    .call(d3.axisLeft(y).tickValues(minor).tickSize(-6).tickFormat(""))
    .call(s => styleAxis(s, 10));
  g.append("g").attr("transform", `translate(${right},0)`)
    .call(d3.axisRight(y).tickValues(major).tickSize(-12).tickFormat(""))
    .call(s => styleAxis(s, 10));
  g.append("g").attr("transform", `translate(${right},0)`)
    .call(d3.axisRight(y).tickValues(minor).tickSize(-6).tickFormat(""))
    .call(s => styleAxis(s, 10));

  // frame
  g.append("rect")
    .attr("x", left).attr("y", TOP)
    .attr("width", PANEL_W).attr("height", BOTTOM - TOP)
    .attr("fill", "none").attr("stroke", "#000").attr("stroke-width", 2);

  // pressure labels
  g.append("g").selectAll("text").data(cfg.series).join("text")
    .attr("x", (d, i) => cfg.labelPos[i][0])
    .attr("y", (d, i) => cfg.labelPos[i][1] + 7)
    .attr("font-family", FONT).attr("font-weight", "bold").attr("font-size", 20)
    .attr("fill", "#000")
    .text(d => d.label);

  // axis titles
  g.append("text")
    .attr("transform", `translate(${cfg.yTitleX},${cfg.yTitleY}) rotate(-90)`)
    .attr("text-anchor", "middle")
    .attr("font-family", FONT).attr("font-size", 40)
    .style("white-space", "pre")
    .text("Counts  (a.u.)");
  g.append("text")
    .attr("x", (left + right) / 2).attr("y", cfg.xTitleY)
    .attr("text-anchor", "middle")
    .attr("font-family", FONT).attr("font-size", 36)
    .style("white-space", "pre")
    .text("Time  (ns)");

  // run direction caption
  g.append("text")
    .attr("x", cfg.captionX).attr("y", 44)
    .attr("font-family", FONT).attr("font-size", 26)
    .text(cfg.caption);

  // sample formula
  const f = g.append("text")
    .attr("x", cfg.formulaX).attr("y", cfg.formulaY)
    .attr("font-family", FONT).attr("font-weight", "bold")
    .attr("fill", "#13901a");
  const parts = [["(Mg", 0], ["0.75", 1], ["Fe", 0], ["0.25", 1], [")", 0], ["2", 1], ["SiO", 0], ["4", 1]];
  let prev = 0;
  parts.forEach(([s, sub]) => {
    f.append("tspan")
      .attr("dy", sub === prev ? 0 : (sub ? 9 : -9))
      .attr("font-size", sub ? 21 : 35)
      .text(s);
    prev = sub;
  });

  // measurement conditions
  g.append("text")
    .attr("x", cfg.condX).attr("y", cfg.condY)
    .attr("font-family", FONT).attr("font-weight", "bold").attr("font-size", 25)
    .attr("fill", "#860a0a")
    .style("white-space", "pre")
    .text("T = 295 K,  ~ 2\u03bcm");

  // panel letter
  g.append("text")
    .attr("x", cfg.letterX).attr("y", cfg.letterY)
    .attr("font-family", FONT).attr("font-size", 46)
    .text(cfg.letter);
}

drawPanel({
  left: 69, lgMin: 0.5, lgMax: 13, series: compSeries, labelPos: compLabelPos,
  yTitleX: 45, yTitleY: 391, xTitleY: 797, caption: "compression", captionX: 88,
  formulaX: 243, formulaY: 89, condX: 314, condY: 134, letter: "(a)", letterX: 213, letterY: 698
});
drawPanel({
  left: 653, lgMin: 0.45, lgMax: 10, series: decompSeries, labelPos: decompLabelPos,
  yTitleX: 629, yTitleY: 388, xTitleY: 792, caption: "decompression", captionX: 664,
  formulaX: 831, formulaY: 107, condX: 874, condY: 164, letter: "(b)", letterX: 826, letterY: 688
});
</script>
</body>
</html>
